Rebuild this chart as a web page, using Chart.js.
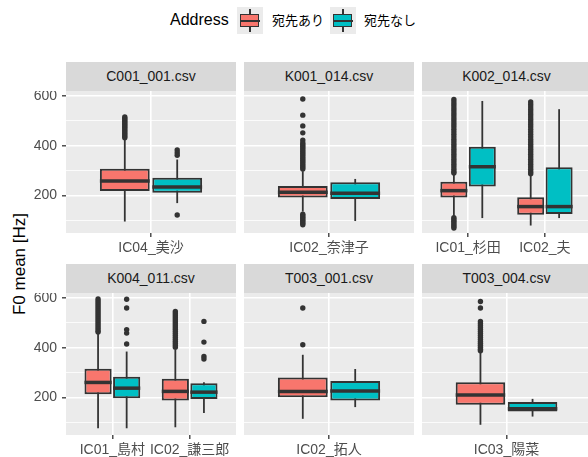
<!DOCTYPE html>
<html>
<head>
<meta charset="utf-8">
<script src="https://cdn.jsdelivr.net/npm/chart.js@4/dist/chart.umd.min.js"></script>
<style>
  body { margin: 0; width: 588px; height: 457px; overflow: hidden; position: relative; background: #fff;
         font-family: 'Liberation Sans', 'Noto Sans CJK JP', sans-serif; }
  .strip { position: absolute; background: #d9d9d9; color: #1a1a1a; font-size: 14px; text-align: center;
           height: 29px; line-height: 29px; }
  .panel { position: absolute; }
  .key { position: absolute; top: 7px; width: 26px; height: 27px; background: #ebebeb; }
  .key .wh { position: absolute; left: 12px; top: 2px; width: 1.5px; height: 23px; background: #333; }
  .key .kb { position: absolute; left: 3px; top: 7px; width: 17px; height: 11px; border: 1.5px solid #333; }
  .key .md { position: absolute; left: 3px; top: 12.5px; width: 20px; height: 2.5px; background: #333; }
  .lab { position: absolute; top: 12px; font-size: 13px; line-height: 18px; }
  #ytitle { position: absolute; left: 20px; top: 264px; transform: translate(-50%, -50%) rotate(-90deg);
            white-space: nowrap; font-size: 17px; color: #000; }
</style>
</head>
<body>
<span class="lab" style="left:170px;top:10px;font-size:16px;line-height:20px">Address</span>
<div class="key" style="left:237px"><div class="wh"></div><div class="kb" style="background:#F8766D"></div><div class="md"></div></div>
<span class="lab" style="left:272px">宛先あり</span>
<div class="key" style="left:330px"><div class="wh"></div><div class="kb" style="background:#00BFC4"></div><div class="md"></div></div>
<span class="lab" style="left:364px">宛先なし</span>
<div id="ytitle">F0 mean [Hz]</div>
<script>
// facets and speakers
const panelNames = ['C001_001.csv', 'K001_014.csv', 'K002_014.csv', 'K004_011.csv', 'T003_001.csv', 'T003_004.csv'];
const speakers = [['IC04_美沙'], ['IC02_奈津子'], ['IC01_杉田', 'IC02_夫'], ['IC01_島村', 'IC02_謙三郎'], ['IC02_拓人'], ['IC03_陽菜']];
const groupNames = ['宛先あり', '宛先なし'];
const yGrid = [100, 200, 300, 400, 500, 600];
const yLabels = [200, 400, 600];

// 宛先あり box stats
const lowAri  = [[96],  [136], [119, 80],  [77, 81],   [115], [91]];
const q1Ari   = [[219], [192], [192, 123], [214, 188], [202], [171]];
const medAri  = [[259], [214], [220, 156], [261, 225], [225], [211]];
const q3Ari   = [[308], [239], [256, 194], [316, 276], [281], [262]];
const highAri = [[428], [298], [284, 282], [456, 392], [372], [382]];
const outAri = [
  [[516, 510, 504, 498, 492, 486, 480, 474, 468, 462, 456, 450, 444, 438, 432]],
  [[588, 523, 480, 452, 423, 412, 405, 398, 391, 384, 377, 370, 363, 356, 349, 342, 335, 328, 321, 314, 307,
    125, 119, 113, 107, 101, 95, 89, 83]],
  [[586, 576, 566, 556, 546, 536, 526, 516, 506, 496, 486, 476, 466, 456, 446, 436, 426, 416, 406, 396, 386, 376,
    366, 356, 346, 336, 326, 316, 306, 296, 291, 111, 104, 97, 90, 83, 76, 70],
   [576, 566, 556, 546, 536, 526, 516, 506, 496, 486, 476, 466, 456, 446, 436, 426, 416, 406, 396, 386, 376, 366,
    356, 346, 336, 326, 316, 306, 296, 288]],
  [[596, 588, 580, 572, 564, 556, 548, 540, 532, 524, 516, 508, 500, 492, 484, 476, 468, 463],
   [546, 538, 530, 522, 514, 506, 498, 490, 482, 474, 466, 458, 450, 442, 434, 426, 418, 410, 402]],
  [[560, 412]],
  [[586, 560, 506, 498, 490, 482, 474, 466, 458, 450, 442, 434, 426, 418, 410, 402, 394, 388]]
];

// 宛先なし box stats
const lowNashi  = [[170], [98],  [110, 110], [77, 138],  [162], [124]];
const q1Nashi   = [[212], [186], [237, 126], [198, 195], [188], [144]];
const medNashi  = [[235], [210], [316, 156], [238, 222], [227], [155]];
const q3Nashi   = [[272], [254], [396, 314], [284, 258], [267], [182]];
const highNashi = [[345], [267], [580, 547], [385, 262], [315], [195]];
const outNashi = [
  [[383, 372, 362, 122]],
  [[]],
  [[], []],
  [[595, 560, 473, 459, 415], [506, 423, 365, 355]],
  [[]],
  [[]]
];

const fills = ['#F8766D', '#00BFC4'];
const ink = '#333333';
const dodge = [-0.185, 0.185];
const yMin = 50, yMax = 620;

const colL = [66, 244, 422], colR = [236, 414, 591];
const stripTop = [62, 264], rowT = [91, 293], rowB = [233, 435];
const xAxisH = 26;
const font = "'Liberation Sans', 'Noto Sans CJK JP', sans-serif";

function noPad(s) {
  s.paddingLeft = 0; s.paddingRight = 0; s.paddingTop = 0; s.paddingBottom = 0;
}

const boxPlugin = {
  id: 'boxWhisker',
  beforeDraw: (chart) => {
    const {ctx, chartArea: a} = chart;
    ctx.save();
    ctx.fillStyle = '#ebebeb';
    ctx.fillRect(a.left, a.top, a.right - a.left, a.bottom - a.top);
    ctx.restore();
  },
  beforeDatasetsDraw: (chart, args, opts) => {
    const p = opts.panel;
    const y = chart.scales.y;
    const lows = [lowAri[p], lowNashi[p]], highs = [highAri[p], highNashi[p]];
    const ctx = chart.ctx;
    ctx.save();
    ctx.strokeStyle = ink;
    ctx.lineWidth = 1.8;
    for (let g = 0; g < 2; g++) {
      chart.getDatasetMeta(g).data.forEach((el, i) => {
        ctx.beginPath();
        ctx.moveTo(el.x, y.getPixelForValue(lows[g][i]));
        ctx.lineTo(el.x, y.getPixelForValue(highs[g][i]));
        ctx.stroke();
      });
    }
    ctx.restore();
  },
  afterDatasetsDraw: (chart, args, opts) => {
    const p = opts.panel;
    const y = chart.scales.y;
    const meds = [medAri[p], medNashi[p]];
    const ctx = chart.ctx;
    ctx.save();
    ctx.strokeStyle = ink;
    ctx.lineWidth = 3.5;
    for (let g = 0; g < 2; g++) {
      chart.getDatasetMeta(g).data.forEach((el, i) => {
        const yy = y.getPixelForValue(meds[g][i]);
        ctx.beginPath();
        ctx.moveTo(el.x - el.width / 2, yy);
        ctx.lineTo(el.x + el.width / 2, yy);
        ctx.stroke();
      });
    }
    ctx.restore();
  }
};

function makePanel(p) {
  const r = Math.floor(p / 3), c = p % 3;
  const n = speakers[p].length;

  const strip = document.createElement('div');
  strip.className = 'strip';
  strip.style.left = colL[c] + 'px';
  strip.style.top = stripTop[r] + 'px';
  strip.style.width = (colR[c] - colL[c]) + 'px';
  strip.textContent = panelNames[p];
  document.body.appendChild(strip);

  const left = c === 0 ? 0 : colL[c];
  const canvas = document.createElement('canvas');
  canvas.className = 'panel';
  canvas.width = colR[c] - left;
  canvas.height = rowB[r] - rowT[r] + xAxisH;
  canvas.style.left = left + 'px';
  canvas.style.top = rowT[r] + 'px';
  document.body.appendChild(canvas);

  const q1 = [q1Ari[p], q1Nashi[p]], q3 = [q3Ari[p], q3Nashi[p]];
  const outs = [outAri[p], outNashi[p]];
  const boxSets = groupNames.map((name, g) => ({
    label: name,
    data: speakers[p].map((s, i) => ({x: i + dodge[g], y: [q1[g][i], q3[g][i]]})),
    backgroundColor: fills[g],
    borderColor: ink,
    borderWidth: 2,
    borderSkipped: false,
    grouped: false,
    categoryPercentage: 1,
    barPercentage: 0.95
  }));
  const pts = [];
  outs.forEach((list, g) => list.forEach((vals, i) => vals.forEach(v => pts.push({x: i + dodge[g], y: v}))));
  const outSet = {
    type: 'scatter',
    label: 'outliers',
    data: pts,
    pointRadius: 2.7,
    pointBackgroundColor: ink,
    pointBorderWidth: 0
  };

  new Chart(canvas.getContext('2d'), {
    type: 'bar',
    data: { datasets: [...boxSets, outSet] },
    options: {
      responsive: false,
      animation: false,
      events: [],
      layout: { padding: 0, autoPadding: false },
      plugins: { legend: { display: false }, tooltip: { enabled: false }, boxWhisker: { panel: p } },
      scales: {
        x: {
          type: 'linear',
          offset: false,
          min: -0.6,
          max: n - 0.4,
          afterBuildTicks: (s) => { s.ticks = speakers[p].map((name, i) => ({value: i})); },
          afterFit: (s) => { s.height = xAxisH; noPad(s); },
          border: { display: false },
          grid: { offset: false, color: '#ffffff', lineWidth: 1.6, tickColor: ink, tickLength: 4, tickWidth: 1.3 },
          ticks: {
            color: '#4d4d4d', font: { size: 14, family: font }, padding: 3, maxRotation: 0, autoSkip: false,
            callback: (v) => speakers[p][v]
          }
        },
        y: {
          type: 'linear',
          min: yMin,
          max: yMax,
          beginAtZero: false,
          afterBuildTicks: (s) => { s.ticks = yGrid.map(v => ({value: v})); },
          afterFit: (s) => { s.width = c === 0 ? colL[0] : 0; noPad(s); },
          border: { display: false },
          grid: {
            color: '#ffffff',
            lineWidth: (ctx) => (ctx.tick && yLabels.includes(ctx.tick.value) ? 1.6 : 0.8),
            drawTicks: c === 0,
            tickLength: 4,
            tickWidth: 1.3,
            tickColor: (ctx) => (ctx.tick && yLabels.includes(ctx.tick.value) ? ink : 'rgba(0,0,0,0)')
          },
          ticks: {
            display: c === 0,
            autoSkip: false,
            color: '#4d4d4d',
            font: { size: 14, family: font },
            padding: 5,
            callback: (v) => (yLabels.includes(v) ? v : '')
          }
        }
      }
    },
    plugins: [boxPlugin]
  });
}

window.onload = function() {
  for (let p = 0; p < panelNames.length; p++) makePanel(p);
};
</script>
</body>
</html>
